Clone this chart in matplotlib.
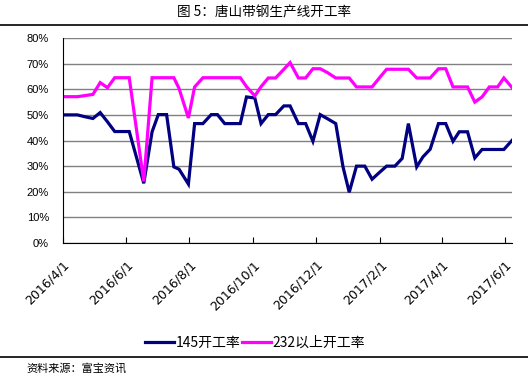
import matplotlib
matplotlib.use('Agg')
import matplotlib.pyplot as plt
from matplotlib.lines import Line2D
from matplotlib.ticker import PercentFormatter
import pandas as pd

plt.rcParams['font.family'] = ['Noto Sans CJK SC', 'DejaVu Sans']

dates = ['2016-04-01', '2016-04-08', '2016-04-15', '2016-04-22', '2016-04-30',
         '2016-05-07', '2016-05-14', '2016-05-21', '2016-05-28', '2016-06-04',
         '2016-06-18', '2016-06-26', '2016-07-02', '2016-07-10', '2016-07-17',
         '2016-07-22', '2016-07-31', '2016-08-06', '2016-08-14', '2016-08-22',
         '2016-08-28', '2016-09-04', '2016-09-12', '2016-09-19', '2016-09-25',
         '2016-10-03', '2016-10-09', '2016-10-16', '2016-10-23', '2016-10-31',
         '2016-11-06', '2016-11-14', '2016-11-21', '2016-11-28', '2016-12-05',
         '2016-12-12', '2016-12-20', '2016-12-27', '2017-01-02', '2017-01-09',
         '2017-01-17', '2017-01-24', '2017-01-31', '2017-02-07', '2017-02-15',
         '2017-02-22', '2017-02-28', '2017-03-08', '2017-03-14', '2017-03-21',
         '2017-03-29', '2017-04-05', '2017-04-12', '2017-04-18', '2017-04-26',
         '2017-05-03', '2017-05-10', '2017-05-17', '2017-05-25', '2017-05-31',
         '2017-06-08']

rate_145 = [50.0, 50.0, 50.0, 49.3, 48.6, 50.9, 47.3, 43.5, 43.5, 43.5,
            23.3, 43.4, 50.1, 50.1, 29.7, 28.8, 23.0, 46.6, 46.6, 50.1,
            50.1, 46.6, 46.6, 46.6, 57.0, 56.6, 46.6, 50.1, 50.1, 53.5,
            53.5, 46.6, 46.6, 39.7, 50.1, 48.5, 46.6, 29.7, 19.8, 30.0,
            30.0, 24.9, 27.5, 30.0, 30.0, 33.0, 46.6, 29.7, 33.6, 36.6,
            46.6, 46.6, 39.7, 43.4, 43.4, 33.2, 36.5, 36.5, 36.5, 36.5,
            40.1]

rate_232 = [57.1, 57.1, 57.1, 57.5, 58.0, 62.6, 60.6, 64.5, 64.5, 64.5,
            24.0, 64.5, 64.5, 64.5, 64.5, 60.3, 48.8, 60.9, 64.5, 64.5,
            64.5, 64.5, 64.5, 64.5, 61.0, 57.4, 61.0, 64.4, 64.4, 67.8,
            70.4, 64.4, 64.4, 68.0, 68.0, 66.5, 64.4, 64.4, 64.4, 60.9,
            60.9, 60.9, 64.4, 67.8, 67.8, 67.8, 67.8, 64.4, 64.4, 64.4,
            68.0, 68.0, 60.9, 60.9, 60.9, 55.0, 57.0, 60.9, 60.9, 64.4,
            60.6]

tick_dates = ['2016-04-01', '2016-06-01', '2016-08-01', '2016-10-01',
              '2016-12-01', '2017-02-01', '2017-04-01', '2017-06-01']
tick_labels = ['2016/4/1', '2016/6/1', '2016/8/1', '2016/10/1',
               '2016/12/1', '2017/2/1', '2017/4/1', '2017/6/1']

x = pd.to_datetime(dates)
navy = '#000080'
pink = '#FF00FF'

fig = plt.figure(figsize=(5.28, 3.8), dpi=100)
ax = fig.add_axes([0.119, 0.3605, 0.851, 0.5395])

ax.plot(x, rate_145, color=navy, lw=2.3, solid_joinstyle='miter')
ax.plot(x, rate_232, color=pink, lw=2.3, solid_joinstyle='miter')

ax.set_ylim(0, 80)
ax.set_yticks(range(0, 81, 10))
ax.yaxis.set_major_formatter(PercentFormatter(decimals=0))
ax.set_xlim(x[0], x[-1])
ax.set_xticks(pd.to_datetime(tick_dates))
ax.set_xticklabels(tick_labels, rotation=45, ha='right', rotation_mode='anchor')

ax.grid(axis='y', color='#808080', lw=1)
ax.set_axisbelow(True)
for side in ['top', 'right']:
    ax.spines[side].set_visible(False)
ax.spines['left'].set_color('black')
ax.spines['bottom'].set_color('black')
ax.tick_params(axis='y', length=0, pad=10, labelsize=8)
ax.tick_params(axis='x', direction='in', length=4, pad=11, labelsize=9)
for lab in ax.get_yticklabels():
    lab.set_family(['Liberation Sans', 'DejaVu Sans'])
for lab in ax.get_xticklabels():
    lab.set_family(['DejaVu Sans'])

# title and source
fig.text(0.5, 0.968, '图 5：唐山带钢生产线开工率', ha='center', va='center', fontsize=9.8)
fig.add_artist(Line2D([0, 1], [0.935, 0.935], color='black', lw=1.2))
fig.add_artist(Line2D([0, 1], [0.06, 0.06], color='black', lw=1.2))
fig.text(0.05, 0.031, '资料来源：富宝资讯', ha='left', va='center', fontsize=8)

handles = [Line2D([], [], color=navy, lw=2.3), Line2D([], [], color=pink, lw=2.3)]
fig.legend(handles, ['145开工率', '232以上开工率'], loc='center', ncol=2,
           bbox_to_anchor=(0.483, 0.098), frameon=False, fontsize=10,
           handlelength=2.1, handletextpad=0.1, columnspacing=0.15)

fig.savefig('out.png', dpi=100)
